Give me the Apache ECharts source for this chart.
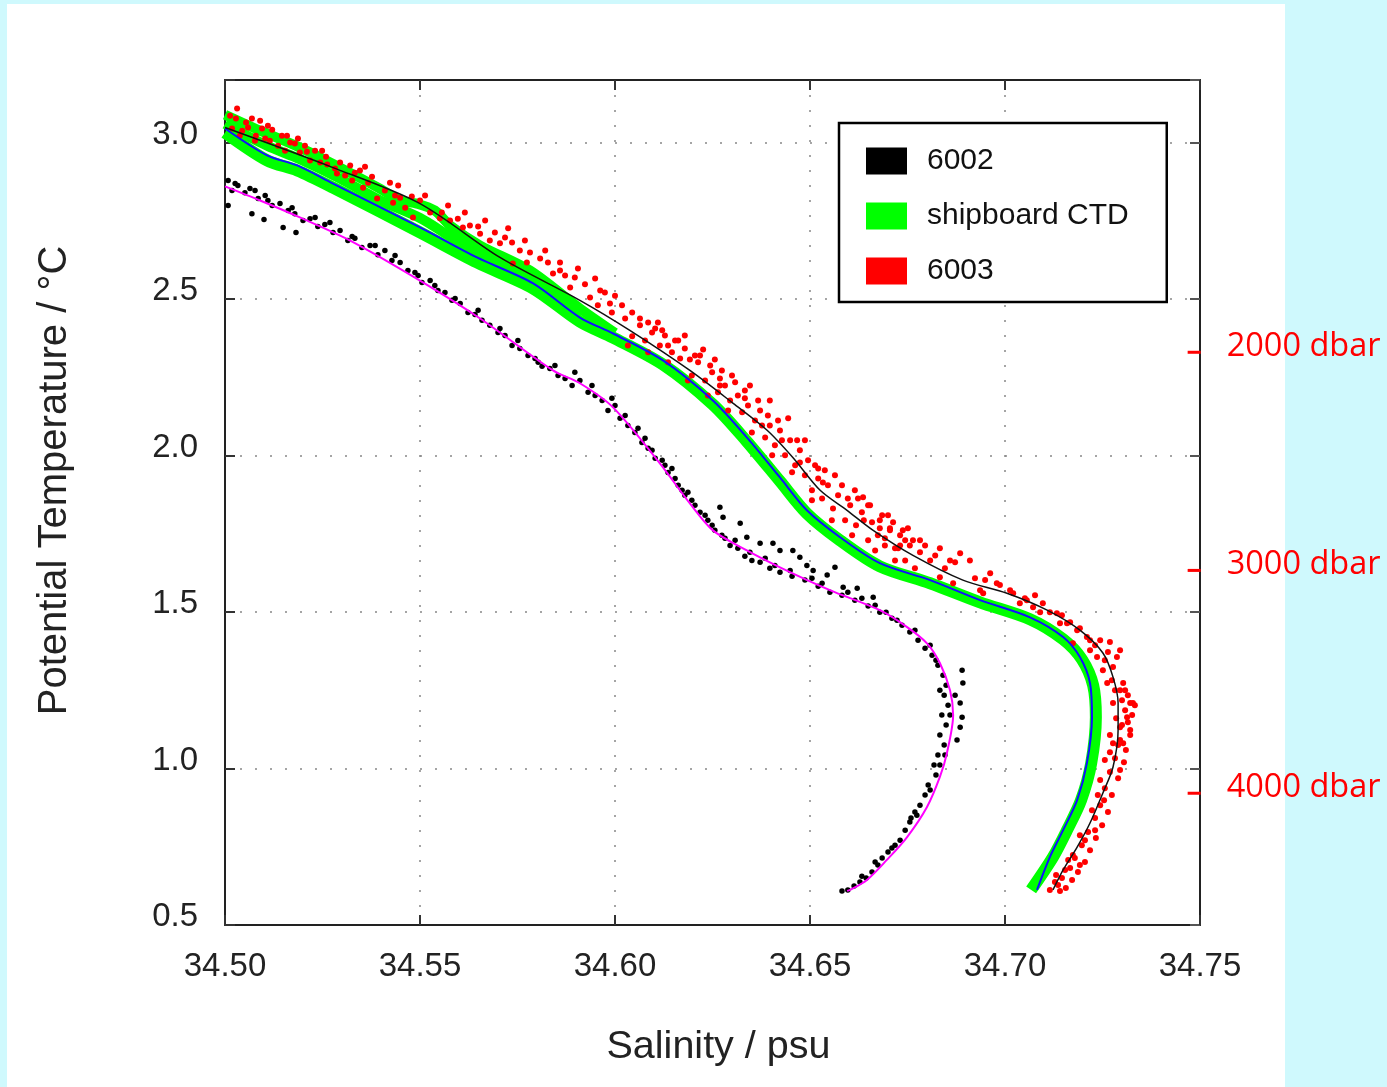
<!DOCTYPE html>
<html>
<head>
<meta charset="utf-8">
<script src="https://cdn.jsdelivr.net/npm/echarts@6/dist/echarts.min.js"></script>
<style>
html, body { margin: 0; padding: 0; background: #cff9fd; }
#container { width: 1387px; height: 1087px; }
</style>
</head>
<body>
<div id="container"></div>
<script>
var dom = document.getElementById("container");
var myChart = echarts.init(dom);

// axes
var xMin = 34.50, xMax = 34.75, xStep = 0.05;
var yMin = 0.5, yMax = 3.2, yStep = 0.5;
var legendNames = ['6002', 'shipboard CTD', '6003'];

// depth marks on the right edge
var dbarLabels = ['2000 dbar', '3000 dbar', '4000 dbar'];
var dbarTemps = [2.330, 1.633, 0.921];

// shipboard CTD band (salinity, theta)
var ctdMain = [[34.5000,3.032],[34.5108,2.943],[34.5185,2.911],[34.5277,2.856],[34.5500,2.713],[34.5646,2.617],[34.5790,2.534],[34.5910,2.428],[34.5995,2.377],[34.6123,2.291],[34.6251,2.163],[34.6338,2.045],[34.6423,1.918],[34.6492,1.815],[34.6577,1.729],[34.6679,1.646],[34.6808,1.592],[34.6936,1.531],[34.7064,1.477],[34.7149,1.413],[34.7197,1.349],[34.7226,1.266],[34.7233,1.164],[34.7221,1.017],[34.7195,0.899],[34.7159,0.803],[34.7123,0.717],[34.7067,0.612]];
var ctdUpper = [[34.5000,3.089],[34.5090,3.038],[34.5192,2.984],[34.5295,2.920],[34.5397,2.853],[34.5449,2.815],[34.5492,2.805],[34.5538,2.783],[34.5577,2.735],[34.5654,2.671],[34.5782,2.591],[34.5910,2.470],[34.6000,2.392]];
var ctdMid = [[34.5000,3.060],[34.5108,2.990],[34.5192,2.947],[34.5295,2.885],[34.5397,2.816],[34.5500,2.759],[34.5577,2.700],[34.5654,2.644],[34.5782,2.565],[34.5910,2.450]];

// fitted curves
var fitCtd = [[34.5000,3.045],[34.5108,2.959],[34.5185,2.927],[34.5277,2.869],[34.5500,2.729],[34.5646,2.633],[34.5790,2.550],[34.5910,2.441],[34.5995,2.390],[34.6123,2.304],[34.6251,2.176],[34.6338,2.058],[34.6423,1.930],[34.6492,1.825],[34.6577,1.739],[34.6679,1.656],[34.6808,1.602],[34.6936,1.538],[34.7064,1.483],[34.7149,1.420],[34.7192,1.356],[34.7218,1.273],[34.7223,1.164],[34.7210,1.017],[34.7185,0.899],[34.7149,0.803],[34.7115,0.717],[34.7082,0.612]];
var fit6003 = [[34.5000,3.048],[34.5277,2.920],[34.5500,2.805],[34.5705,2.633],[34.5910,2.496],[34.6038,2.400],[34.6192,2.272],[34.6303,2.167],[34.6390,2.081],[34.6456,1.994],[34.6526,1.889],[34.6595,1.825],[34.6662,1.761],[34.6764,1.681],[34.6892,1.602],[34.7005,1.560],[34.7108,1.506],[34.7192,1.442],[34.7251,1.369],[34.7277,1.292],[34.7290,1.209],[34.7290,1.123],[34.7277,1.005],[34.7251,0.922],[34.7218,0.826],[34.7185,0.749],[34.7149,0.676],[34.7123,0.612]];
var fit6002 = [[34.5000,2.860],[34.5090,2.815],[34.5192,2.761],[34.5321,2.687],[34.5500,2.559],[34.5654,2.438],[34.5841,2.272],[34.5910,2.231],[34.5995,2.154],[34.6115,1.975],[34.6192,1.847],[34.6251,1.761],[34.6338,1.697],[34.6423,1.643],[34.6551,1.570],[34.6679,1.506],[34.6749,1.452],[34.6800,1.400],[34.6833,1.337],[34.6859,1.250],[34.6867,1.171],[34.6851,1.049],[34.6833,0.973],[34.6800,0.877],[34.6749,0.781],[34.6697,0.708],[34.6646,0.644],[34.6603,0.612],[34.6595,0.609]];

// float 6003 samples
var pts6003 = [
  [34.5031,3.109],[34.5069,3.077],[34.5090,3.070],[34.5121,3.041],[34.5159,3.022],[34.5179,2.997],[34.5210,2.971],[34.5262,2.930],[34.5287,2.901],[34.5326,2.879],[34.5354,2.856],[34.5390,2.821],[34.5431,2.808],[34.5449,2.824],[34.5482,2.761],[34.5551,2.758],[34.5610,2.729],[34.5654,2.709],[34.5705,2.678],[34.5738,2.614],[34.5774,2.617],[34.5841,2.582],[34.5885,2.537],[34.5936,2.505],[34.5987,2.486],
  [34.5018,3.045],[34.5038,3.022],[34.5059,3.048],[34.5077,3.006],[34.5103,3.013],[34.5136,2.990],[34.5154,2.974],[34.5192,2.968],[34.5218,2.943],[34.5244,2.936],[34.5282,2.917],[34.5308,2.895],[34.5333,2.904],[34.5367,2.872],[34.5410,2.847],[34.5436,2.831],[34.5462,2.792],[34.5500,2.815],[34.5526,2.777],[34.5577,2.751],[34.5628,2.735],[34.5679,2.687],[34.5718,2.697],[34.5756,2.655],[34.5808,2.630],[34.5859,2.591],[34.5897,2.569],[34.5962,2.527],[34.6000,2.511],
  [34.5028,3.077],[34.5054,3.064],[34.5095,3.045],[34.5115,3.006],[34.5167,3.000],[34.5187,3.013],[34.5231,2.974],[34.5259,2.955],[34.5295,2.936],[34.5346,2.911],[34.5377,2.891],[34.5423,2.872],[34.5479,2.828],[34.5556,2.777],[34.5597,2.757],[34.5649,2.732],[34.5692,2.713],[34.5736,2.681],[34.5782,2.649],[34.5828,2.617],[34.5872,2.575],[34.5923,2.547],[34.5974,2.521],[34.5992,2.457],[34.6018,2.480],
  [34.5013,3.086],[34.5044,3.038],[34.5079,3.022],[34.5110,3.054],[34.5146,3.022],[34.5205,2.990],[34.5249,2.974],[34.5321,2.927],[34.5359,2.923],[34.5444,2.863],[34.5513,2.831],[34.5572,2.799],[34.5615,2.777],[34.5667,2.751],[34.5726,2.726],[34.5769,2.687],[34.5821,2.655],[34.5859,2.617],[34.5905,2.598],[34.5949,2.566],[34.5956,2.480],
  [34.6026,2.438],[34.6044,2.381],[34.6064,2.416],[34.6077,2.368],[34.6095,2.393],[34.6115,2.352],[34.6128,2.384],[34.6146,2.330],[34.6167,2.310],[34.6179,2.342],[34.6197,2.256],[34.6213,2.298],[34.6231,2.240],[34.6249,2.266],[34.6264,2.202],[34.6269,2.246],[34.6282,2.224],[34.6295,2.176],[34.6315,2.192],[34.6326,2.138],[34.6341,2.160],[34.6359,2.112],[34.6372,2.144],[34.6385,2.058],[34.6397,2.096],[34.6410,2.033],[34.6423,2.080],[34.6436,2.001],[34.6449,2.049],[34.6462,1.969],[34.6474,2.017],[34.6487,1.937],[34.6495,1.985],[34.6505,1.889],[34.6521,1.927],[34.6531,1.863],[34.6546,1.905],[34.6559,1.831],[34.6572,1.873],[34.6590,1.793],[34.6603,1.841],[34.6618,1.777],[34.6633,1.819],[34.6649,1.729],[34.6659,1.787],[34.6674,1.745],[34.6692,1.713],[34.6705,1.761],[34.6726,1.704],[34.6744,1.729],[34.6764,1.729],[34.6636,1.867],
  [34.6033,2.352],[34.6085,2.330],[34.6136,2.298],[34.6187,2.240],[34.6238,2.192],[34.6290,2.144],[34.6351,2.074],[34.6403,2.001],[34.6454,1.947],[34.6505,1.857],[34.6556,1.793],[34.6608,1.745],[34.6667,1.697],[34.6718,1.665],[34.6110,2.425],[34.6162,2.368],[34.6218,2.320],[34.6274,2.272],[34.6333,2.208],[34.6392,2.128],
  [34.6064,2.438],[34.6103,2.406],[34.6154,2.368],[34.6205,2.320],[34.6244,2.288],[34.6308,2.234],[34.6367,2.176],[34.6418,2.112],[34.6467,2.049],[34.6513,1.969],[34.6538,1.953],[34.6582,1.905],[34.6623,1.863],[34.6654,1.841],[34.6685,1.809],[34.6713,1.787],[34.6738,1.761],[34.6795,1.713],[34.6821,1.681],[34.6859,1.665],
  [34.6044,2.457],[34.6085,2.425],[34.6121,2.400],[34.6136,2.352],[34.6179,2.384],[34.6192,2.307],[34.6226,2.339],[34.6256,2.307],[34.6269,2.224],[34.6300,2.256],[34.6333,2.183],[34.6346,2.224],[34.6377,2.096],[34.6397,2.176],[34.6428,2.049],[34.6444,2.119],[34.6474,1.978],[34.6487,2.049],[34.6521,1.959],[34.6533,1.914],[34.6564,1.937],[34.6597,1.863],[34.6615,1.889],[34.6638,1.793],[34.6649,1.841],[34.6679,1.768],[34.6700,1.809],[34.6731,1.713],[34.6751,1.768],[34.6782,1.729],
  [34.6833,1.704],[34.6885,1.688],[34.6910,1.665],[34.6962,1.624],[34.6979,1.592],[34.7021,1.560],[34.7038,1.528],[34.7097,1.528],[34.7133,1.496],[34.7159,1.464],[34.7185,1.442],[34.7210,1.420],[34.7244,1.410],[34.7269,1.404],[34.7295,1.378],[34.7236,1.356],[34.7277,1.324],[34.7303,1.273],[34.7321,1.209],[34.7313,1.164],[34.7295,1.132],[34.7321,1.123],[34.7277,1.209],[34.7262,1.273],[34.7251,1.314],[34.7328,1.209],[34.7277,1.081],[34.7303,1.081],[34.6944,1.560],[34.6833,1.611],[34.6867,1.592],[34.6936,1.570],[34.7056,1.538],[34.7072,1.515],[34.7141,1.464],[34.7174,1.400],[34.7218,1.378],[34.7287,1.356],[34.6679,1.793],[34.6705,1.768],[34.6731,1.745],[34.6756,1.713],[34.6782,1.691],[34.6808,1.665],[34.6744,1.665],[34.6769,1.640],[34.6718,1.704],[34.6692,1.736],
  [34.6846,1.640],[34.6872,1.659],[34.6949,1.602],[34.7013,1.570],[34.7077,1.554],[34.7090,1.499],[34.7146,1.490],[34.7192,1.448],[34.7231,1.394],[34.7264,1.372],[34.7274,1.282],[34.7308,1.250],
  [34.6923,1.608],[34.6987,1.586],[34.7051,1.544],[34.7115,1.499],[34.7167,1.467],[34.7218,1.410],[34.7256,1.346],[34.7282,1.250],[34.7300,1.218],[34.7285,1.161],[34.7315,1.148],[34.7295,1.091],[34.7269,1.052],[34.7295,0.995],[34.7244,0.963],[34.7254,0.899],[34.7231,0.803],[34.7205,0.771],[34.7174,0.724],[34.7192,0.692],[34.7154,0.676],[34.7128,0.637],
  [34.7295,1.250],[34.7315,1.234],[34.7308,1.186],[34.7326,1.171],[34.7300,1.139],[34.7321,1.107],[34.7290,1.075],[34.7310,1.059],[34.7282,1.033],[34.7305,1.020],[34.7269,0.989],[34.7290,0.969],[34.7256,0.937],[34.7274,0.915],[34.7244,0.883],[34.7264,0.861],[34.7231,0.842],[34.7249,0.819],[34.7213,0.797],[34.7233,0.778],[34.7197,0.755],[34.7218,0.739],[34.7179,0.714],[34.7205,0.701],[34.7167,0.682],[34.7187,0.669],[34.7146,0.650],[34.7172,0.644],[34.7136,0.628],[34.7156,0.618],[34.7115,0.612],[34.7141,0.609],[34.7333,1.202],[34.7269,1.107],[34.7256,1.027],[34.7238,0.915],[34.7223,0.867],[34.7192,0.787],[34.7162,0.708],[34.7131,0.660]
];

// float 6002 samples
var pts6002 = [
  [34.5008,2.879],[34.5018,2.847],[34.5033,2.863],[34.5051,2.840],[34.5064,2.853],[34.5085,2.821],[34.5103,2.831],[34.5121,2.799],[34.5141,2.805],[34.5162,2.783],[34.5179,2.773],[34.5200,2.751],[34.5218,2.757],[34.5238,2.732],[34.5256,2.738],[34.5277,2.713],[34.5295,2.719],[34.5315,2.687],[34.5333,2.694],[34.5351,2.665],[34.5372,2.671],[34.5392,2.642],[34.5410,2.655],[34.5428,2.623],[34.5449,2.617],[34.5469,2.591],[34.5487,2.585],[34.5505,2.553],[34.5526,2.559],[34.5546,2.527],[34.5564,2.521],[34.5582,2.496],[34.5603,2.486],[34.5623,2.457],[34.5641,2.451],[34.5659,2.432],[34.5679,2.416],[34.5700,2.393],[34.5718,2.384],[34.5736,2.352],[34.5756,2.342],[34.5777,2.320],[34.5795,2.310],[34.5813,2.285],[34.5833,2.278],[34.5854,2.256],[34.5872,2.246],[34.5890,2.224],[34.5910,2.240],[34.5931,2.202],[34.5949,2.192],[34.5967,2.176],[34.5982,2.144],[34.6000,2.160],
  [34.5026,2.869],[34.5077,2.847],[34.5110,2.815],[34.5172,2.792],[34.5231,2.761],[34.5269,2.745],[34.5326,2.700],[34.5385,2.671],[34.5436,2.639],[34.5495,2.575],[34.5538,2.543],[34.5590,2.502],[34.5649,2.464],[34.5705,2.406],[34.5751,2.368],[34.5803,2.298],[34.5846,2.288],[34.5897,2.266],[34.5941,2.224],
  [34.6013,2.119],[34.6033,2.096],[34.6051,2.074],[34.6069,2.042],[34.6085,2.023],[34.6103,1.991],[34.6121,1.985],[34.6136,1.946],[34.6154,1.927],[34.6172,1.889],[34.6187,1.883],[34.6205,1.841],[34.6218,1.819],[34.6238,1.793],[34.6256,1.761],[34.6274,1.745],[34.6295,1.713],[34.6315,1.704],[34.6333,1.678],[34.6351,1.665],[34.6372,1.659],[34.6397,1.640],[34.6423,1.627],[34.6454,1.614],[34.6487,1.602],[34.6521,1.582],[34.6551,1.563],[34.6582,1.554],[34.6615,1.538],[34.6649,1.519],[34.6679,1.499],[34.6710,1.480],[34.6736,1.458],[34.6756,1.436],[34.6777,1.410],[34.6795,1.384],[34.6813,1.362],[34.6828,1.330],[34.6841,1.298],[34.6849,1.266],
  [34.5992,2.183],[34.6026,2.128],[34.6059,2.087],[34.6077,2.055],[34.6095,2.017],[34.6128,1.969],[34.6146,1.959],[34.6162,1.905],[34.6179,1.873],[34.6197,1.857],[34.6231,1.809],[34.6249,1.777],[34.6282,1.736],[34.6308,1.729],[34.6346,1.691],[34.6385,1.672],[34.6410,1.649],[34.6449,1.633],[34.6505,1.608],[34.6531,1.592],[34.6597,1.563],[34.6633,1.544],[34.6667,1.522],[34.6695,1.499],[34.6723,1.474],[34.6769,1.442],[34.6808,1.394],[34.6823,1.346],
  [34.6844,1.234],[34.6854,1.202],[34.6838,1.171],[34.6849,1.139],[34.6833,1.107],[34.6844,1.075],[34.6828,1.043],[34.6818,1.011],[34.6823,0.979],[34.6803,0.947],[34.6795,0.915],[34.6782,0.883],[34.6769,0.861],[34.6756,0.829],[34.6744,0.803],[34.6731,0.771],[34.6718,0.755],[34.6700,0.733],[34.6685,0.714],[34.6674,0.692],[34.6659,0.669],[34.6644,0.650],[34.6628,0.637],[34.6613,0.625],[34.6597,0.612],[34.6582,0.609],
  [34.6833,1.250],[34.6859,1.171],[34.6846,1.043],[34.6833,1.011],[34.6808,0.931],[34.6774,0.851],[34.6759,0.842],[34.6710,0.746],[34.6667,0.701],[34.6633,0.656],
  [34.5008,2.799],[34.5069,2.773],[34.5100,2.754],[34.5149,2.729],[34.5182,2.713],
  [34.6269,1.835],[34.6277,1.803],[34.6321,1.784],[34.6338,1.739],[34.6372,1.720],[34.6405,1.720],[34.6423,1.697],[34.6456,1.697],[34.6474,1.675],[34.6492,1.649],[34.6508,1.633],[34.6544,1.618],[34.6564,1.643],[34.6585,1.579],[34.6621,1.576],[34.6662,1.547],
  [34.6890,1.314],[34.6892,1.273],[34.6885,1.209],[34.6890,1.164],[34.6885,1.132],[34.6877,1.091],[34.6872,1.234]
];

var labelFont = 'Liberation Sans, Arial, sans-serif';
var dbarData = dbarTemps.map(function (t, i) {
    return { value: [34.7485, t], label: { formatter: dbarLabels[i] } };
});

function ctdLine(data, width) {
    return {
        name: 'shipboard CTD', type: 'line', data: data, smooth: 0.3,
        showSymbol: false, symbol: 'none', z: 1,
        itemStyle: { color: '#00ff00', opacity: 1 },
        lineStyle: { color: '#00ff00', width: width }
    };
}

option = {
    backgroundColor: '#cff9fd',
    animation: false,
    graphic: [{
        type: 'rect',
        z: -10,
        shape: { x: 7, y: 4, width: 1278, height: 1083 },
        style: { fill: '#ffffff' }
    }],
    grid: { left: 225, top: 80, width: 975, height: 845 },
    legend: {
        data: legendNames,
        orient: 'vertical',
        left: 839,
        top: 123,
        icon: 'rect',
        itemWidth: 41,
        itemHeight: 27,
        itemGap: 25,
        padding: [23, 38, 16, 27],
        borderColor: '#000',
        borderWidth: 2.5,
        backgroundColor: '#fff',
        selectedMode: false,
        textStyle: { fontSize: 30, color: '#111', fontFamily: labelFont, padding: [0, 0, 0, 15] }
    },
    xAxis: [{
        type: 'value',
        min: xMin, max: xMax, interval: xStep,
        name: 'Salinity / psu',
        nameLocation: 'middle',
        nameGap: 102,
        nameTextStyle: { fontSize: 39.5, color: '#222', fontFamily: labelFont, padding: [0, 0, 0, 12] },
        axisLine: { lineStyle: { color: '#222', width: 2 } },
        axisTick: { inside: true, length: 10, lineStyle: { color: '#333', width: 2 } },
        axisLabel: { fontSize: 33, color: '#222', margin: 25, fontFamily: labelFont,
            formatter: function (v) { return v.toFixed(2); } },
        splitLine: { show: true, lineStyle: { color: '#888', width: 1.5, type: [2, 13] } }
    }, {
        type: 'value',
        position: 'top',
        min: xMin, max: xMax, interval: xStep,
        axisLine: { lineStyle: { color: '#222', width: 2 } },
        axisTick: { inside: true, length: 10, lineStyle: { color: '#333', width: 2 } },
        axisLabel: { show: false },
        splitLine: { show: false }
    }],
    yAxis: [{
        type: 'value',
        min: yMin, max: yMax, interval: yStep,
        name: 'Potential Temperature / °C',
        nameLocation: 'middle',
        nameGap: 150,
        nameTextStyle: { fontSize: 40, color: '#222', fontFamily: labelFont, padding: [0, 0, 0, 44] },
        axisLine: { lineStyle: { color: '#222', width: 2 } },
        axisTick: { inside: true, length: 10, lineStyle: { color: '#333', width: 2 } },
        axisLabel: { fontSize: 33, color: '#222', margin: 27, fontFamily: labelFont,
            verticalAlign: 'bottom', lineHeight: 16,
            formatter: function (v) { return Math.abs(v - yMax) < 1e-9 ? '' : v.toFixed(1); } },
        splitLine: { show: true, lineStyle: { color: '#888', width: 1.5, type: [2, 13] } }
    }, {
        type: 'value',
        position: 'right',
        min: yMin, max: yMax, interval: yStep,
        axisLine: { lineStyle: { color: '#222', width: 2 } },
        axisTick: { inside: true, length: 10, lineStyle: { color: '#555', width: 2 } },
        axisLabel: { show: false },
        splitLine: { show: false }
    }],
    series: [
        ctdLine(ctdUpper, 10),
        ctdLine(ctdMid, 10),
        ctdLine(ctdMain, 12),
        {
            name: '6003', type: 'scatter', data: pts6003, z: 2,
            symbolSize: 6, itemStyle: { color: '#ff0000', opacity: 1 }
        },
        {
            name: '6002', type: 'scatter', data: pts6002, z: 2,
            symbolSize: 5.5, itemStyle: { color: '#000000', opacity: 1 }
        },
        {
            name: 'CTD fit', type: 'line', data: fitCtd, smooth: 0.3,
            showSymbol: false, symbol: 'none', z: 4,
            lineStyle: { color: '#1010ff', width: 2 }
        },
        {
            name: '6003 fit', type: 'line', data: fit6003, smooth: 0.3,
            showSymbol: false, symbol: 'none', z: 4,
            lineStyle: { color: '#111111', width: 1.5 }
        },
        {
            name: '6002 fit', type: 'line', data: fit6002, smooth: 0.3,
            showSymbol: false, symbol: 'none', z: 4,
            lineStyle: { color: '#ff00ff', width: 2 }
        },
        {
            name: 'dbar', type: 'scatter', data: dbarData, z: 5,
            symbol: 'rect', symbolSize: [13, 3],
            itemStyle: { color: '#ff0000', opacity: 1 },
            label: {
                show: true, position: 'right', distance: 26, offset: [0, -6],
                color: '#ff0000', fontSize: 32.5, fontFamily: 'Open Sans, sans-serif'
            }
        }
    ]
};

if (option && typeof option === "object") {
    myChart.setOption(option, true);
}
</script>
</body>
</html>
